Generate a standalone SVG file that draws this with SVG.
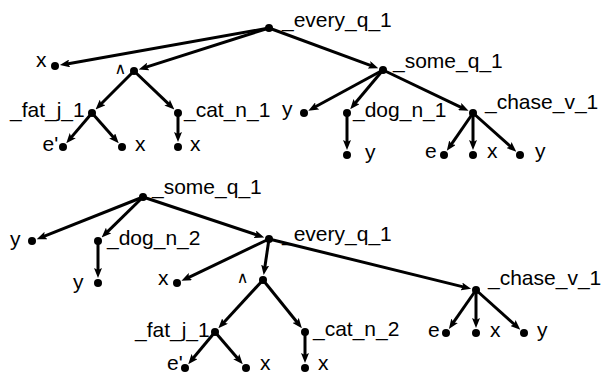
<svg xmlns="http://www.w3.org/2000/svg" width="601" height="374" viewBox="0 0 601 374">
<style>
text{font-family:"Liberation Sans",Arial,Helvetica,sans-serif;font-size:21px;fill:#000}
text.and{font-family:"DejaVu Sans","Liberation Sans",sans-serif;font-size:16px}
circle{fill:#000}
.edges line{stroke:#000;stroke-width:3;fill:none;marker-end:url(#arr)}
</style>
<defs>
<marker id="arr" markerUnits="userSpaceOnUse" markerWidth="10" markerHeight="8" refX="3" refY="4" orient="auto" viewBox="0 0 10 8">
<path d="M0,0 L10,4 L0,8 L2,4 z" fill="#000"/>
</marker>
</defs>
<rect width="601" height="374" fill="#fff"/>
<g class="edges" id="connectors">
<line x1="269" y1="28" x2="66.8" y2="63.9"/>
<line x1="269" y1="28" x2="145.4" y2="67.4"/>
<line x1="269" y1="28" x2="371.7" y2="65.9"/>
<line x1="134" y1="71" x2="100.5" y2="104.5"/>
<line x1="134" y1="71" x2="169.3" y2="104.7"/>
<line x1="92" y1="113" x2="70.8" y2="137.9"/>
<line x1="92" y1="113" x2="114.1" y2="138"/>
<line x1="178" y1="113" x2="178" y2="135"/>
<line x1="383" y1="70" x2="314.5" y2="107.3"/>
<line x1="383" y1="70" x2="354.7" y2="103.8"/>
<line x1="383" y1="70" x2="462.2" y2="107.8"/>
<line x1="347" y1="113" x2="347" y2="143"/>
<line x1="473" y1="113" x2="450.8" y2="145.1"/>
<line x1="473" y1="113" x2="473" y2="143"/>
<line x1="473" y1="113" x2="511.1" y2="147"/>
<line x1="143" y1="197" x2="43.2" y2="236.6"/>
<line x1="143" y1="197" x2="106.6" y2="232.6"/>
<line x1="143" y1="197" x2="257.6" y2="235.2"/>
<line x1="98" y1="241" x2="98" y2="271"/>
<line x1="269" y1="239" x2="187.8" y2="277.8"/>
<line x1="269" y1="239" x2="264.7" y2="268.1"/>
<line x1="269" y1="239" x2="464.3" y2="287.1"/>
<line x1="263" y1="280" x2="223.1" y2="323.2"/>
<line x1="263" y1="280" x2="297.5" y2="322.7"/>
<line x1="215" y1="332" x2="192.7" y2="358.8"/>
<line x1="215" y1="332" x2="238.2" y2="358.9"/>
<line x1="305" y1="332" x2="305" y2="356"/>
<line x1="476" y1="290" x2="452.9" y2="323.2"/>
<line x1="476" y1="290" x2="476" y2="321"/>
<line x1="476" y1="290" x2="515.1" y2="325"/>
</g>
<g id="t-every"><circle cx="269" cy="28" r="4"/><text x="282" y="27">_every_q_1</text></g>
<g id="t-x"><circle cx="55" cy="66" r="4"/><text x="36" y="67">x</text></g>
<g id="t-and"><circle cx="134" cy="71" r="4"/><text class="and" x="120.4" y="73.5" text-anchor="middle">∧</text></g>
<g id="t-some"><circle cx="383" cy="70" r="4"/><text x="393" y="68">_some_q_1</text></g>
<g id="t-fat"><circle cx="92" cy="113" r="4"/><text x="10" y="117">_fat_j_1</text></g>
<g id="t-cat"><circle cx="178" cy="113" r="4"/><text x="184" y="117">_cat_n_1</text></g>
<g id="t-fat-e"><circle cx="63" cy="147" r="4"/><text x="42.5" y="151">e'</text></g>
<g id="t-fat-x"><circle cx="122" cy="147" r="4"/><text x="135" y="151">x</text></g>
<g id="t-cat-x"><circle cx="178" cy="147" r="4"/><text x="190" y="151">x</text></g>
<g id="t-y"><circle cx="304" cy="113" r="4"/><text x="282" y="116">y</text></g>
<g id="t-dog"><circle cx="347" cy="113" r="4"/><text x="353" y="117">_dog_n_1</text></g>
<g id="t-dog-y"><circle cx="347" cy="155" r="4"/><text x="365" y="159">y</text></g>
<g id="t-chase"><circle cx="473" cy="113" r="4"/><text x="485" y="109">_chase_v_1</text></g>
<g id="t-chase-e"><circle cx="444" cy="155" r="4"/><text x="425" y="158">e</text></g>
<g id="t-chase-x"><circle cx="473" cy="155" r="4"/><text x="487" y="158">x</text></g>
<g id="t-chase-y"><circle cx="520" cy="155" r="4"/><text x="535" y="158">y</text></g>
<g id="b-some"><circle cx="143" cy="197" r="4"/><text x="152" y="194">_some_q_1</text></g>
<g id="b-y"><circle cx="32" cy="241" r="4"/><text x="10" y="246">y</text></g>
<g id="b-dog"><circle cx="98" cy="241" r="4"/><text x="107" y="245">_dog_n_2</text></g>
<g id="b-dog-y"><circle cx="98" cy="283" r="4"/><text x="73" y="289">y</text></g>
<g id="b-every"><circle cx="269" cy="239" r="4"/><text x="282" y="241">_every_q_1</text></g>
<g id="b-x"><circle cx="177" cy="283" r="4"/><text x="158" y="285">x</text></g>
<g id="b-and"><circle cx="263" cy="280" r="4"/><text class="and" x="242.5" y="282.5" text-anchor="middle">∧</text></g>
<g id="b-fat"><circle cx="215" cy="332" r="4"/><text x="135" y="337">_fat_j_1</text></g>
<g id="b-cat"><circle cx="305" cy="332" r="4"/><text x="313" y="336">_cat_n_2</text></g>
<g id="b-fat-e"><circle cx="185" cy="368" r="4"/><text x="167" y="369.5">e'</text></g>
<g id="b-fat-x"><circle cx="246" cy="368" r="4"/><text x="260" y="369.5">x</text></g>
<g id="b-cat-x"><circle cx="305" cy="368" r="4"/><text x="318" y="369.5">x</text></g>
<g id="b-chase"><circle cx="476" cy="290" r="4"/><text x="488" y="285">_chase_v_1</text></g>
<g id="b-chase-e"><circle cx="446" cy="333" r="4"/><text x="428" y="337">e</text></g>
<g id="b-chase-x"><circle cx="476" cy="333" r="4"/><text x="490" y="337">x</text></g>
<g id="b-chase-y"><circle cx="524" cy="333" r="4"/><text x="537" y="337">y</text></g>
</svg>
